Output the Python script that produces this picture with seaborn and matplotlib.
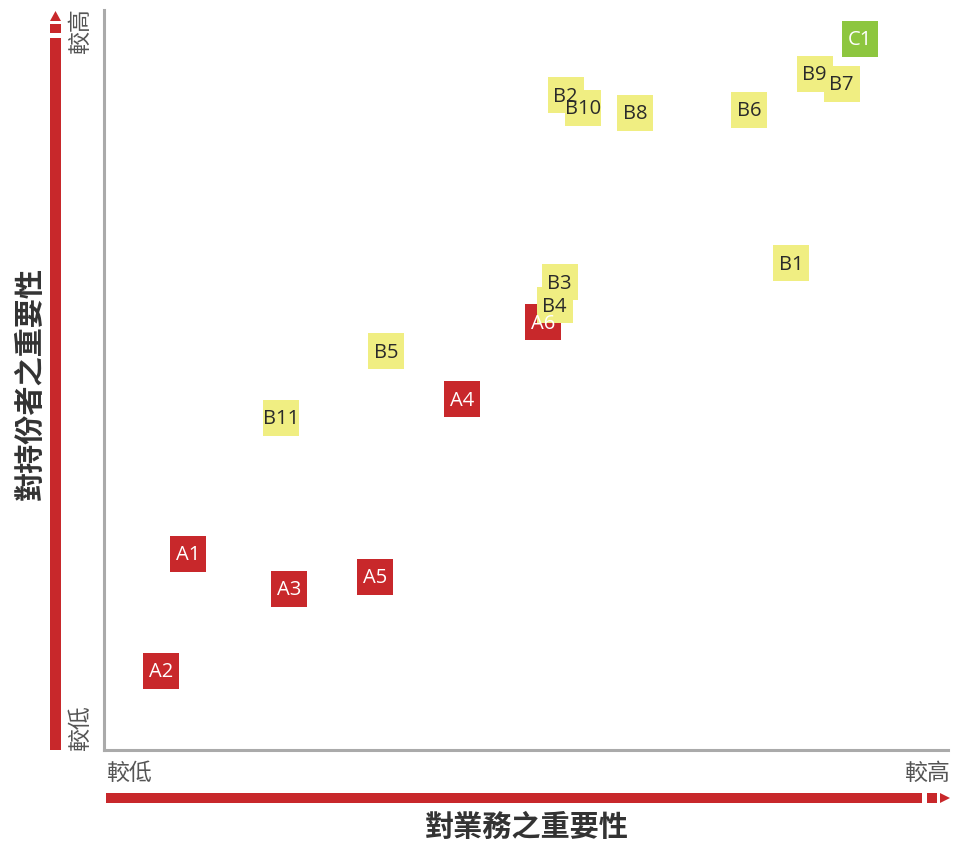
import matplotlib
matplotlib.use("Agg")
import matplotlib.pyplot as plt
import seaborn as sns
import pandas as pd
from matplotlib.patches import Rectangle, Polygon

labels = ["A1", "A2", "A3", "A4", "A5", "A6",
          "B1", "B2", "B3", "B4", "B5", "B6", "B7", "B8", "B9", "B10", "B11",
          "C1"]
groups = ["A"] * 6 + ["B"] * 11 + ["C"]
x_vals = [10.0, 6.8, 21.9, 42.4, 32.1, 52.0,
          81.4, 54.7, 54.0, 53.4, 33.4, 76.4, 87.4, 62.9, 84.2, 56.8, 21.0,
          89.6]
y_vals = [26.5, 10.7, 21.8, 47.4, 23.4, 57.8,
          65.8, 88.5, 63.2, 60.1, 53.9, 86.5, 90.0, 86.1, 91.4, 86.8, 44.9,
          96.1]
draw_order = ["A1", "A2", "A3", "A4", "A5", "A6",
              "B1", "B3", "B4", "B5", "B6", "B8", "B9", "B7", "B2", "B10", "B11",
              "C1"]
palette = {"A": "#C8282B", "B": "#F0EE82", "C": "#8DC63F"}
text_colors = {"A": "white", "B": "#2a2a2a", "C": "white"}
x_title = "對業務之重要性"
y_title = "對持份者之重要性"
low_label = "較低"
high_label = "較高"

df = pd.DataFrame({"label": labels, "group": groups, "x": x_vals, "y": y_vals})
df = df.set_index("label").loc[draw_order].reset_index()

sns.set_theme(style="white")
plt.rcParams['font.family'] = ['Noto Sans CJK TC', 'DejaVu Sans']

W, H = 954, 846
fig = plt.figure(figsize=(W / 100, H / 100), dpi=100)
ax = fig.add_axes([104 / W, (H - 750) / H, (948 - 104) / W, (750 - 10) / H])

sns.scatterplot(data=df, x="x", y="y", hue="group", palette=palette,
                marker="s", s=670, linewidth=0, legend=False, ax=ax, zorder=3)
for _, r in df.iterrows():
    ax.text(r["x"], r["y"] - 0.2, r["label"], ha="center", va="center",
            fontsize=14.5, color=text_colors[r["group"]],
            family=["Open Sans", "DejaVu Sans"], zorder=5)

ax.set_xlim(0, 100)
ax.set_ylim(0, 100)
ax.set_xticks([])
ax.set_yticks([])
ax.set_xlabel("")
ax.set_ylabel("")
for s in ["top", "right"]:
    ax.spines[s].set_visible(False)
for s in ["left", "bottom"]:
    ax.spines[s].set_color("#aaaaaa")
    ax.spines[s].set_linewidth(2.2)

def fx(px):
    return px / W

def fy(py):
    return (H - py) / H

red = "#C8282B"
# vertical arrow
fig.patches.append(Rectangle((fx(50), fy(750)), fx(61) - fx(50), fy(38) - fy(750),
                             transform=fig.transFigure, color=red, lw=0))
fig.patches.append(Rectangle((fx(50), fy(33)), fx(61) - fx(50), fy(24) - fy(33),
                             transform=fig.transFigure, color=red, lw=0))
fig.patches.append(Polygon([(fx(50), fy(21)), (fx(61), fy(21)), (fx(55.5), fy(11))],
                           closed=True, transform=fig.transFigure, color=red, lw=0))
# horizontal arrow
fig.patches.append(Rectangle((fx(106), fy(803)), fx(922) - fx(106), fy(793) - fy(803),
                             transform=fig.transFigure, color=red, lw=0))
fig.patches.append(Rectangle((fx(927), fy(803)), fx(937) - fx(927), fy(793) - fy(803),
                             transform=fig.transFigure, color=red, lw=0))
fig.patches.append(Polygon([(fx(940), fy(803)), (fx(940), fy(793)), (fx(950), fy(798))],
                           closed=True, transform=fig.transFigure, color=red, lw=0))

# axis titles
fig.text(fx(527), fy(827), x_title, ha="center", va="center", fontsize=21,
         color="#333333", fontweight="bold")
fig.text(fx(30), fy(383), y_title, ha="center", va="center", fontsize=21,
         color="#333333", rotation=90, fontweight="bold")

# low/high labels
lab_kw = dict(fontsize=16.5, color="#555555", fontweight="light")
fig.text(fx(106), fy(773), low_label, ha="left", va="center", **lab_kw)
fig.text(fx(950), fy(773), high_label, ha="right", va="center", **lab_kw)
fig.text(fx(80), fy(751), low_label, ha="center", va="bottom", rotation=90, **lab_kw)
fig.text(fx(80), fy(8), high_label, ha="center", va="top", rotation=90, **lab_kw)

fig.savefig("out.png", dpi=100)
